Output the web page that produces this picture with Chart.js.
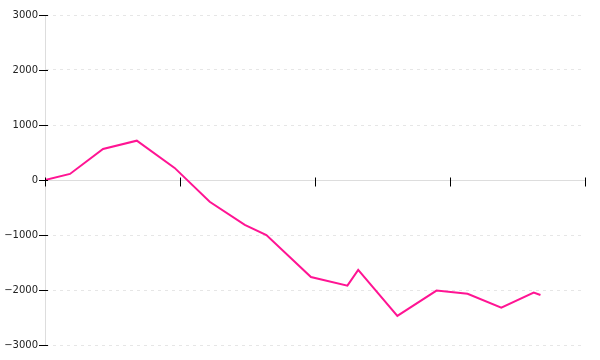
<!DOCTYPE html>
<html>
<head>
<meta charset="utf-8">
<script src="https://cdn.jsdelivr.net/npm/chart.js@4/dist/chart.umd.min.js"></script>
<style>
html,body{margin:0;padding:0;background:#fff;}
#wrap{width:600px;height:360px;}
</style>
</head>
<body>
<div id="wrap"><canvas id="c" width="600" height="360"></canvas></div>
<script>
const xValues = [0, 1.85, 4.3, 6.8, 9.6, 12.2, 14.8, 16.4, 19.7, 22.4, 23.2, 26.1, 29.0, 31.3, 33.8, 36.2, 36.7];
const yValues = [0, 110, 565, 715, 220, -395, -815, -1000, -1765, -1920, -1635, -2470, -2010, -2070, -2320, -2045, -2090];
const yTickValues = [-3000, -2000, -1000, 0, 1000, 2000, 3000];
const xTickValues = [0, 10, 20, 30, 40];

const points = xValues.map((x, i) => ({x: x, y: yValues[i]}));

const tickMarks = {
  id: 'tickMarks',
  afterDatasetsDraw(chart) {
    const ctx = chart.ctx;
    const xs = chart.scales.x, ys = chart.scales.y;
    const left = chart.chartArea.left;
    const y0 = Math.round(ys.getPixelForValue(0)) + 0.5;
    ctx.save();
    ctx.strokeStyle = '#000';
    ctx.lineWidth = 1;
    ctx.beginPath();
    yTickValues.forEach(v => {
      const py = Math.round(ys.getPixelForValue(v)) + 0.5;
      ctx.moveTo(left - 6, py);
      ctx.lineTo(left + 3, py);
    });
    xTickValues.forEach(v => {
      const px = Math.round(xs.getPixelForValue(v)) + 0.5;
      ctx.moveTo(px, y0 - 3);
      ctx.lineTo(px, y0 + 6);
    });
    ctx.stroke();
    ctx.restore();
  }
};

new Chart(document.getElementById('c'), {
  type: 'line',
  data: {
    datasets: [{
      data: points,
      borderColor: '#ff1493',
      backgroundColor: '#ff1493',
      borderWidth: 2,
      pointRadius: 0,
      tension: 0,
      fill: false
    }]
  },
  options: {
    responsive: false,
    animation: false,
    layout: {padding: {left: 0, right: 15, top: 15, bottom: 15}},
    plugins: {legend: {display: false}, tooltip: {enabled: false}},
    scales: {
      x: {
        type: 'linear',
        position: {y: 0},
        min: 0,
        max: 40,
        afterBuildTicks: s => { s.ticks = xTickValues.map(v => ({value: v})); },
        ticks: {display: false},
        grid: {drawOnChartArea: false, drawTicks: false},
        border: {display: true, color: '#dddddd', width: 1}
      },
      y: {
        min: -3000,
        max: 3000,
        afterBuildTicks: s => { s.ticks = yTickValues.map(v => ({value: v})); },
        afterFit: s => { s.width = 45; },
        ticks: {
          color: '#222',
          padding: 7,
          font: {family: 'DejaVu Sans', size: 10},
          callback: v => v < 0 ? '\u2212' + Math.abs(v) : String(v)
        },
        grid: {
          color: '#e6e6e6',
          lineWidth: 1,
          drawTicks: false
        },
        border: {display: true, color: '#dddddd', width: 1, dash: [3, 4]}
      }
    }
  },
  plugins: [tickMarks]
});
</script>
</body>
</html>
